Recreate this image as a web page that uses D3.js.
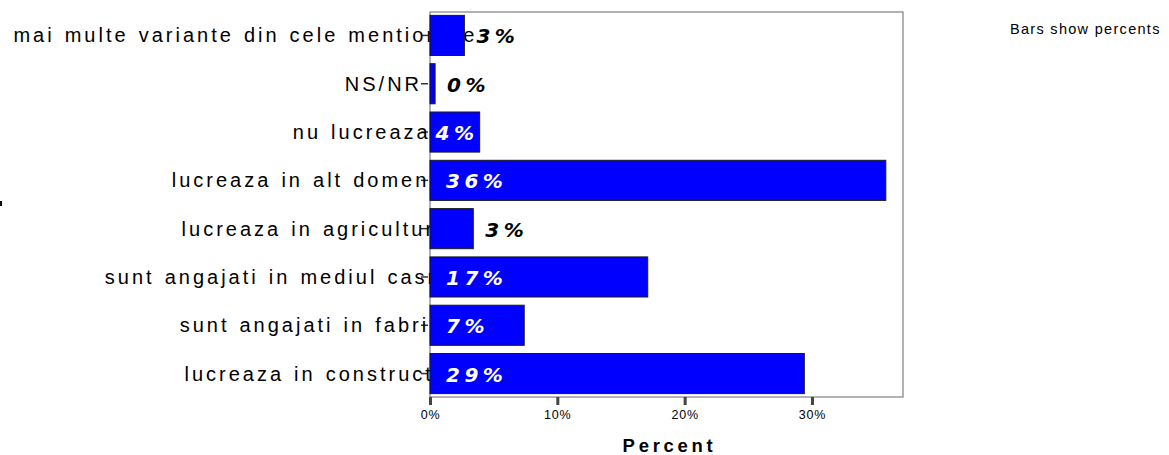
<!DOCTYPE html>
<html><head><meta charset="utf-8">
<script src="https://cdn.jsdelivr.net/npm/d3@7"></script>
<style>body{margin:0;background:#fff} svg{display:block}</style>
</head><body><svg id="c" width="1169" height="455"></svg>
<script>
const categories = [
  "mai multe variante din cele mentionate",
  "NS/NR",
  "nu lucreaza",
  "lucreaza in alt domeniu",
  "lucreaza in agricultura",
  "sunt angajati in mediul casnic",
  "sunt angajati in fabrici",
  "lucreaza in constructii"
];
const percents = [2.7, 0.4, 3.9, 35.8, 3.4, 17.1, 7.4, 29.4];
const xTicks = [0, 10, 20, 30];
const xAxisTitle = "Percent";
const note = "Bars show percents";

const svg = d3.select("#c");
const plot = {left: 430, right: 903, top: 12, bottom: 397};
const x = d3.scaleLinear().domain([0, 37.15]).range([plot.left, plot.right]);
const y = d3.scaleBand().domain(categories).range([plot.top, plot.bottom])
  .paddingInner(0.17).paddingOuter(0.07);

// frame
svg.append("rect")
  .attr("x", plot.left).attr("y", plot.top)
  .attr("width", plot.right - plot.left).attr("height", plot.bottom - plot.top)
  .attr("fill", "none").attr("stroke", "#7f7f7f").attr("stroke-width", 1.2);

// y ticks
const gy = svg.append("g").attr("transform", `translate(${plot.left - 2},0)`)
  .call(d3.axisLeft(y).tickSize(7).tickFormat(""));
gy.select(".domain").remove();
gy.selectAll(".tick line").attr("stroke", "#333").attr("stroke-width", 1.5);

// category labels (SPSS-like overflowing layout)
svg.append("g").selectAll("text").data(categories).join("text")
  .attr("y", d => y(d) + y.bandwidth() / 2)
  .attr("dy", "0.35em")
  .attr("fill", "#000")
  .style("font-family", "'Liberation Sans', Arial, sans-serif")
  .style("font-size", "20px")
  .style("letter-spacing", "3px")
  .style("word-spacing", "1.5px")
  .text(d => d)
  .attr("x", function () {
    const w = this.getComputedTextLength();
    return 411 - 0.857 * w;
  });

// bars
svg.append("g").selectAll("rect").data(categories).join("rect")
  .attr("x", x(0))
  .attr("y", d => y(d))
  .attr("width", (d, i) => x(percents[i]) - x(0))
  .attr("height", y.bandwidth())
  .attr("fill", "#0000ff")
  .attr("stroke", "#1a1a1a").attr("stroke-width", 1);

// value labels
const fmt = v => d3.format(".0f")(v) + "%";
svg.append("g").selectAll("text").data(categories).join("text")
  .attr("y", d => y(d) + y.bandwidth() / 2)
  .attr("dy", "0.4em")
  .style("font-family", "'DejaVu Sans', sans-serif")
  .style("font-weight", "bold")
  .style("font-style", "italic")
  .style("font-size", "20px")
  .style("letter-spacing", "4.5px")
  .text((d, i) => fmt(percents[i]))
  .each(function (d, i) {
    const w = this.getComputedTextLength();
    const x0 = x(0), x1 = x(percents[i]);
    let px, fill;
    if (x0 + 16 + w <= x1) { px = x0 + 16; fill = "#fff"; }
    else if (w + 4 <= x1 - x0) { px = (x0 + x1) / 2 - (w - 4.5) / 2; fill = "#fff"; }
    else { px = x1 + 12; fill = "#000"; }
    d3.select(this).attr("x", px).attr("fill", fill);
  });

// x axis
const gx = svg.append("g").attr("transform", `translate(0,${plot.bottom})`)
  .call(d3.axisBottom(x).tickValues(xTicks).tickSize(8).tickFormat(d => d + "%"));
gx.select(".domain").remove();
gx.selectAll(".tick line").attr("stroke", "#444").attr("stroke-width", 3);
gx.selectAll(".tick text")
  .attr("y", 22).attr("dy", null)
  .attr("fill", "#000")
  .style("font-family", "'Liberation Sans', Arial, sans-serif")
  .style("font-size", "12.5px")
  .style("letter-spacing", "0.8px");

// x title
svg.append("text")
  .attr("x", (plot.left + plot.right) / 2 + 3)
  .attr("y", 452)
  .attr("text-anchor", "middle")
  .style("font-family", "'Liberation Sans', Arial, sans-serif")
  .style("font-weight", "bold")
  .style("font-size", "18.5px")
  .style("letter-spacing", "3.7px")
  .text(xAxisTitle);

// note
svg.append("text")
  .attr("x", 1010).attr("y", 34)
  .style("font-family", "'Liberation Sans', Arial, sans-serif")
  .style("font-size", "14.5px")
  .style("letter-spacing", "1.3px")
  .text(note);

// stray mark at left edge
svg.append("rect").attr("x", 0).attr("y", 201).attr("width", 2).attr("height", 5).attr("fill", "#000");
</script>
</body></html>
